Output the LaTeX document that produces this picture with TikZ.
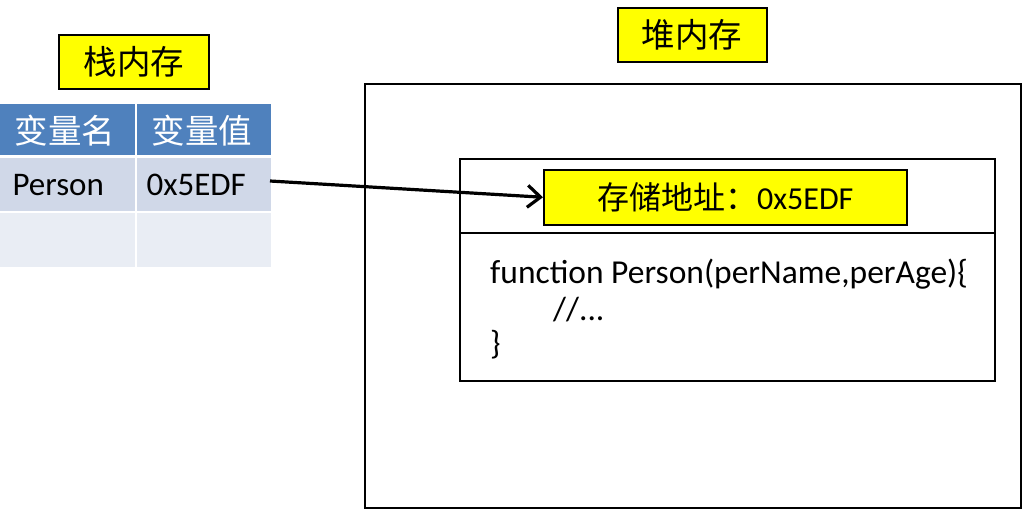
\documentclass[tikz,border=0pt]{standalone}
\usepackage{fontspec}
\setmainfont{Carlito}
\newfontfamily\cjk{Noto Sans CJK SC}
\usetikzlibrary{arrows.meta}
\definecolor{hdrblue}{HTML}{4F81BD}
\definecolor{rowa}{HTML}{D0D8E8}
\definecolor{rowb}{HTML}{E9EDF4}
\definecolor{memyellow}{HTML}{FFFF00}
\tikzset{
  label box/.style={draw=black, line width=1.5pt, fill=memyellow},
  frame/.style={draw=black, line width=2pt},
  big/.style={font=\fontsize{33.5}{36}\selectfont\cjk},
  cellt/.style={font=\fontsize{33}{36}\selectfont, anchor=west},
  code/.style={font=\fontsize{33.5}{36}\selectfont, anchor=base west, inner sep=0},
  ptr/.style={line width=3.2pt, -{Straight Barb[length=13pt,width=22pt,line width=3.2pt]}}
}
\begin{document}
\begin{tikzpicture}[x=1pt,y=-1pt]
\useasboundingbox (0,0) rectangle (1024,511);
% stack label
\draw[label box] (59,35) rectangle (209,89);
\node[big] (stacklbl) at (134,62) {栈内存};
% table
\fill[hdrblue] (0,104) rectangle (135,155);
\fill[hdrblue] (137,104) rectangle (271,155);
\fill[rowa] (0,158) rectangle (135,211);
\fill[rowa] (137,158) rectangle (271,211);
\fill[rowb] (0,213) rectangle (135,267);
\fill[rowb] (137,213) rectangle (271,267);
\node[big, text=white] (h1) at (65,131) {变量名};
\node[big, text=white] (h2) at (202,131) {变量值};
\node[cellt] (name) at (9,185) {Person};
\node[cellt] (val) at (143,185) {0x5EDF};
\coordinate (start) at (270,181);
% heap label
\draw[label box] (618,8) rectangle (767,62);
\node[big] (heaplbl) at (692,35) {堆内存};
% heap frame
\draw[frame] (365,84) rectangle (1021,508);
% object box
\draw[frame] (460,159) rectangle (995,381);
\draw[frame] (460,233) -- (995,233);
\node[label box, minimum width=363pt, minimum height=55pt, inner sep=0, anchor=north west,
      font=\fontsize{32}{34}\selectfont] (addr) at (543,169)
      {{\cjk 存储地址：}0x5EDF};
% code
\node[code] (c1) at (490,283) {function Person(perName,perAge)\{};
\node[code] (c2) at (553,320) {//...};
\node[code] (c3) at (490,354) {\}};
% pointer
\draw[ptr] (start) -- (addr.west);
\end{tikzpicture}
\end{document}
